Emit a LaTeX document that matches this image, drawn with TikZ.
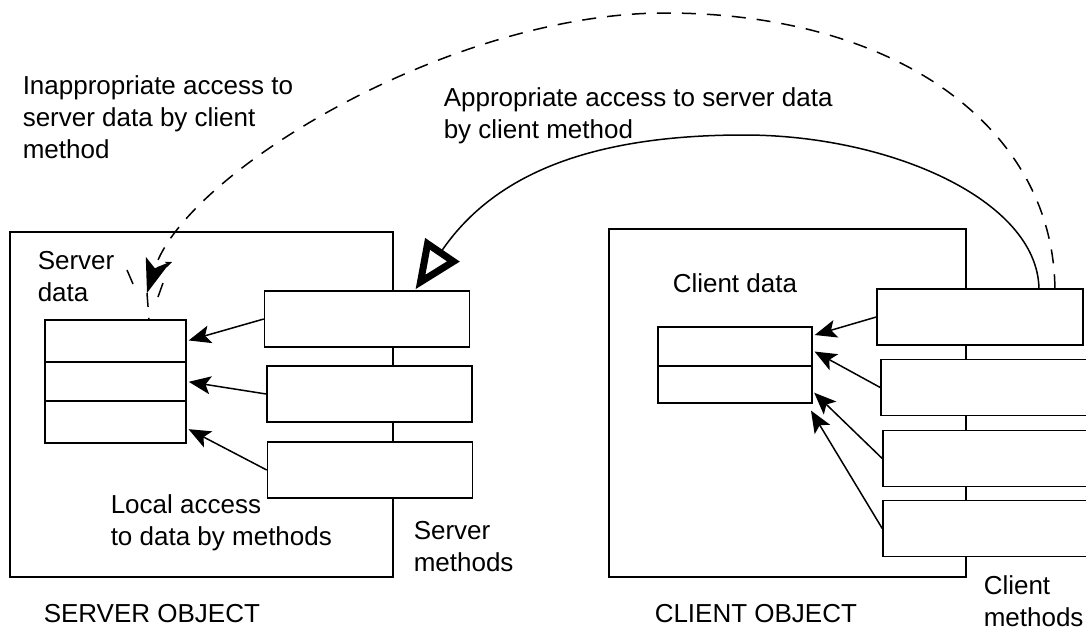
\documentclass[tikz,border=0pt]{standalone}
\usepackage{fontspec}
\setmainfont{Liberation Sans}
\usetikzlibrary{arrows.meta}

\begin{document}
\begin{tikzpicture}[x=1pt, y=-1pt, line width=1.5pt,
	objbox/.style={draw},
	method/.style={draw, fill=white, minimum height=56pt, inner sep=0pt},
	cell/.style={draw, fill=white, minimum width=#1, inner sep=0pt},
	lbl/.style={align=left, anchor=west, inner sep=0pt, font=\fontsize{26}{32}\selectfont},
	local/.style={-{Stealth[length=22pt, width=18pt, inset=5pt]}},
	dashline/.style={dash pattern=on 14pt off 11pt}]

\useasboundingbox (0,0) rectangle (1086,632);
\clip (0,0) rectangle (1086,632);

\def \smw {205pt} % width of the method boxes
\def \cmw {210pt}

% server object
\node[objbox, minimum width=383pt, minimum height=345pt] (server) at (201.5,404.5) {};
\foreach \i/\y/\h in {1/341/42, 2/381.5/39, 3/422/42}
	\node[cell=141pt, minimum height=\h pt] (sd\i) at (115.5,\y) {};
\foreach \i/\x/\y in {1/367/319, 2/369.5/394, 3/370/470}
	\node[method, minimum width=\smw] (sm\i) at (\x,\y) {};
\foreach \i/\a in {1/east, 2/east, 3/-5}
	\draw[local, shorten >=2pt] (sm\i.west) -- (sd\i.\a);

% client object
\node[objbox, minimum width=357pt, minimum height=348pt] (client) at (787.5,403) {};
\foreach \i/\y/\h in {1/346.5/39, 2/384.5/37}
	\node[cell=154pt, minimum height=\h pt] (cd\i) at (735,\y) {};
\node[method, minimum width=206pt] (cm1) at (980,317) {};
\foreach \i/\x/\y in {2/986/387.5, 3/988/458.5, 4/988/528.5}
	\node[method, minimum width=\cmw] (cm\i) at (\x,\y) {};
\foreach \i/\t in {1/cd1.8, 2/cd1.-3, 3/cd2.-5}
	\draw[local, shorten >=2pt] (cm\i.west) -- (\t);
\draw[local, shorten >=8pt] (cm4.west) -- (cd2.-15);

% access from client method to server data
\draw[-{Triangle[open, length=48pt, width=40pt, line width=7pt]}, shorten >=1pt]
	(cm1.26) .. controls (1037,200) and (890,135) .. (744,135)
	.. controls (580,135) and (490,180) .. (sm1.31);
\coordinate (hit) at (147,293);
\draw[dashline, -{Stealth[length=34pt, width=24pt, inset=8pt]}]
	(cm1.21) .. controls (1053,130) and (900,13) .. (665,13)
	.. controls (450,13) and (185,173) .. (hit);
\draw[dashline] (hit) -- (sd1.33);
\draw (127,270) -- (133,284);
\draw (163,283) -- (158,297);
\draw[-{Stealth[length=7pt, width=6pt]}] (157,268) -- (172,262);

% labels
\node[lbl] (inapp) at (22,117) {Inappropriate access to\\server data by client\\method};
\node[lbl] (app) at (443,116) {Appropriate access to server data\\by client method};
\node[lbl] (sdlbl) at (37,277) {Server\\data};
\node[lbl] (loclbl) at (110,523) {Local access\\to data by methods};
\node[lbl] (smlbl) at (413,547) {Server\\methods};
\node[lbl] (cdlbl) at (672,283) {Client data};
\node[lbl] (cmlbl) at (983,601) {Client\\methods};
\node[lbl] (sobj) at (43,614) {SERVER OBJECT};
\node[lbl] (cobj) at (654,614) {CLIENT OBJECT};

\end{tikzpicture}
\end{document}
